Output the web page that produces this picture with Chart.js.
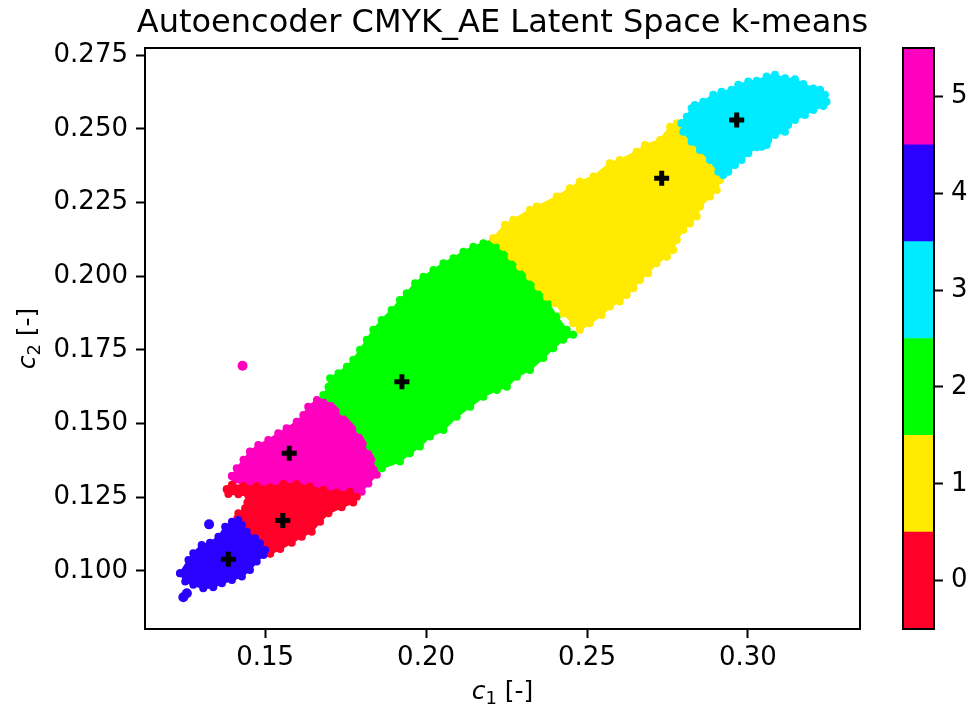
<!DOCTYPE html>
<html>
<head>
<meta charset="utf-8">
<script src="https://cdn.jsdelivr.net/npm/chart.js@4.4.1/dist/chart.umd.min.js"></script>
<style>
  html, body { margin: 0; padding: 0; background: #ffffff; }
  #wrap { position: relative; width: 974px; height: 713px; }
  #main { position: absolute; left: 0; top: 0; }
  #cbar { position: absolute; left: 860px; top: 0; }
</style>
</head>
<body>
<div id="wrap">
  <canvas id="main" width="974" height="713"></canvas>
  <canvas id="cbar" width="114" height="713"></canvas>
</div>
<script>
// k-means cluster labels and their colours (gist_rainbow, 6 levels)
const clusterLabels = [0, 1, 2, 3, 4, 5];
const clusterColors = ['#ff0029', '#ffea00', '#00ff00', '#00ebff', '#2a00ff', '#ff00bf'];

// Outline of each cluster's point cloud in latent coordinates [c1, c2]
const cloud0 = [ // red
  [0.1381,0.1277],[0.1397,0.1292],[0.1433,0.1288],[0.1474,0.1288],[0.1516,0.1284],[0.1557,0.1295],
  [0.1598,0.1295],[0.1640,0.1286],[0.1681,0.1275],[0.1723,0.1266],[0.1764,0.1269],[0.1785,0.1252],
  [0.1774,0.1232],[0.1738,0.1216],[0.1697,0.1196],[0.1671,0.1167],[0.1645,0.1133],[0.1614,0.1116],
  [0.1583,0.1096],[0.1547,0.1074],[0.1516,0.1058],[0.1500,0.1071],[0.1484,0.1094],[0.1469,0.1111],
  [0.1443,0.1133],[0.1428,0.1156],[0.1417,0.1173],[0.1414,0.1179],[0.1417,0.1196],[0.1438,0.1213],
  [0.1445,0.1232],[0.1464,0.1247],[0.1448,0.1255],[0.1417,0.1260],[0.1386,0.1261]
];
const cloud1 = [ // yellow
  [0.2209,0.2129],[0.2245,0.2174],[0.2271,0.2191],[0.2323,0.2225],[0.2344,0.2236],[0.2406,0.2270],
  [0.2447,0.2298],[0.2478,0.2321],[0.2520,0.2338],[0.2571,0.2383],[0.2602,0.2394],[0.2654,0.2422],
  [0.2680,0.2445],[0.2727,0.2462],[0.2758,0.2507],[0.2779,0.2519],[0.2794,0.2507],[0.2810,0.2473],
  [0.2830,0.2445],[0.2861,0.2417],[0.2892,0.2383],[0.2923,0.2354],[0.2913,0.2326],[0.2903,0.2292],
  [0.2882,0.2270],[0.2851,0.2236],[0.2841,0.2202],[0.2820,0.2179],[0.2799,0.2157],[0.2779,0.2123],
  [0.2768,0.2089],[0.2748,0.2066],[0.2716,0.2044],[0.2690,0.2010],[0.2665,0.1987],[0.2644,0.1959],
  [0.2623,0.1936],[0.2602,0.1914],[0.2571,0.1897],[0.2546,0.1868],[0.2509,0.1840],[0.2478,0.1818],
  [0.2457,0.1840],[0.2426,0.1874],[0.2401,0.1908],[0.2375,0.1930],[0.2349,0.1964],[0.2323,0.1998],
  [0.2292,0.2032],[0.2266,0.2066],[0.2240,0.2100],[0.2214,0.2123]
];
const cloud2 = [ // green
  [0.1862,0.1348],[0.1919,0.1371],[0.1950,0.1399],[0.1981,0.1422],[0.2012,0.1456],[0.2054,0.1478],
  [0.2095,0.1523],[0.2137,0.1557],[0.2178,0.1591],[0.2220,0.1614],[0.2251,0.1625],[0.2282,0.1659],
  [0.2323,0.1682],[0.2364,0.1722],[0.2395,0.1755],[0.2426,0.1784],[0.2457,0.1801],[0.2437,0.1818],
  [0.2406,0.1863],[0.2380,0.1908],[0.2354,0.1953],[0.2323,0.1998],[0.2292,0.2032],[0.2261,0.2066],
  [0.2230,0.2100],[0.2209,0.2123],[0.2178,0.2112],[0.2147,0.2100],[0.2116,0.2083],[0.2085,0.2061],
  [0.2054,0.2044],[0.2023,0.2021],[0.1992,0.1998],[0.1966,0.1976],[0.1940,0.1942],[0.1919,0.1919],
  [0.1893,0.1885],[0.1862,0.1851],[0.1836,0.1818],[0.1816,0.1784],[0.1795,0.1750],[0.1774,0.1716],
  [0.1754,0.1693],[0.1728,0.1671],[0.1702,0.1654],[0.1697,0.1625],[0.1681,0.1597],[0.1702,0.1586],
  [0.1743,0.1540],[0.1795,0.1478],[0.1826,0.1422],[0.1852,0.1365]
];
const cloud3 = [ // cyan
  [0.2794,0.2519],[0.2810,0.2541],[0.2825,0.2570],[0.2835,0.2581],[0.2861,0.2592],[0.2892,0.2615],
  [0.2918,0.2626],[0.2949,0.2632],[0.2970,0.2649],[0.3001,0.2660],[0.3027,0.2663],[0.3058,0.2677],
  [0.3084,0.2683],[0.3115,0.2671],[0.3146,0.2668],[0.3172,0.2652],[0.3203,0.2637],[0.3224,0.2632],
  [0.3239,0.2615],[0.3244,0.2592],[0.3234,0.2577],[0.3203,0.2564],[0.3177,0.2547],[0.3146,0.2530],
  [0.3125,0.2513],[0.3115,0.2490],[0.3084,0.2479],[0.3063,0.2462],[0.3058,0.2445],[0.3043,0.2439],
  [0.3027,0.2437],[0.3001,0.2417],[0.2980,0.2394],[0.2960,0.2377],[0.2939,0.2354],[0.2923,0.2343],
  [0.2908,0.2354],[0.2882,0.2394],[0.2851,0.2428],[0.2825,0.2456],[0.2799,0.2490]
];
const cloud4 = [ // blue
  [0.1236,0.0992],[0.1262,0.1037],[0.1277,0.1060],[0.1303,0.1088],[0.1329,0.1096],[0.1355,0.1116],
  [0.1376,0.1150],[0.1397,0.1167],[0.1417,0.1173],[0.1428,0.1156],[0.1443,0.1133],[0.1469,0.1111],
  [0.1484,0.1094],[0.1500,0.1071],[0.1495,0.1054],[0.1474,0.1032],[0.1453,0.1003],[0.1428,0.0981],
  [0.1397,0.0969],[0.1366,0.0958],[0.1339,0.0945],[0.1308,0.0941],[0.1277,0.0953],[0.1252,0.0964]
];
const cloud5 = [ // magenta
  [0.1397,0.1322],[0.1412,0.1348],[0.1433,0.1377],[0.1453,0.1405],[0.1479,0.1427],[0.1510,0.1444],
  [0.1541,0.1467],[0.1567,0.1484],[0.1598,0.1506],[0.1619,0.1529],[0.1634,0.1557],[0.1661,0.1580],
  [0.1686,0.1591],[0.1707,0.1580],[0.1733,0.1552],[0.1754,0.1523],[0.1774,0.1495],[0.1795,0.1467],
  [0.1816,0.1433],[0.1836,0.1399],[0.1857,0.1360],[0.1847,0.1326],[0.1821,0.1297],[0.1800,0.1269],
  [0.1780,0.1261],[0.1764,0.1269],[0.1723,0.1266],[0.1681,0.1275],[0.1640,0.1286],[0.1598,0.1295],
  [0.1557,0.1295],[0.1516,0.1284],[0.1474,0.1288],[0.1433,0.1288],[0.1407,0.1309]
];
const clouds = [cloud0, cloud1, cloud2, cloud3, cloud4, cloud5];

// Isolated samples lying away from the main clouds: [c1, c2, cluster]
const strayPoints = [
  [0.1430, 0.1696, 5],
  [0.1326, 0.1158, 4],
  [0.1246, 0.0911, 4],
  [0.1257, 0.0924, 4]
];

// Cluster centres, indexed by cluster label
const centroidC1 = [0.1555, 0.2732, 0.1925, 0.2965, 0.1386, 0.1575];
const centroidC2 = [0.1171, 0.2332, 0.1642, 0.2530, 0.1040, 0.1399];

// Axis ranges and ticks
const c1Range = [0.1127, 0.3348];
const c2Range = [0.0803, 0.2774];
const c1Ticks = [0.15, 0.20, 0.25, 0.30];
const c2Ticks = [0.100, 0.125, 0.150, 0.175, 0.200, 0.225, 0.250, 0.275];

const FONT = '"DejaVu Sans", sans-serif';
const TICK_PX = 26;
const LABEL_PX = 25;
const TITLE_PX = 32;

// Cloud drawing order: later clusters sit on top of earlier ones
const drawOrder = { 5: 7, 0: 6, 4: 5, 2: 4, 1: 3, 3: 2 };

const datasets = [];
clusterLabels.forEach(k => {
  const pts = clouds[k].map(p => ({ x: p[0], y: p[1] }));
  pts.push({ x: clouds[k][0][0], y: clouds[k][0][1] });
  datasets.push({
    type: 'line',
    label: 'cluster ' + k,
    data: pts,
    order: drawOrder[k],
    showLine: true,
    fill: 'shape',
    tension: 0,
    borderColor: clusterColors[k],
    backgroundColor: clusterColors[k],
    borderWidth: 2,
    borderJoinStyle: 'round',
    pointRadius: 4,
    pointBackgroundColor: clusterColors[k],
    pointBorderWidth: 0,
    pointHoverRadius: 4
  });
});
datasets.push({
  type: 'scatter',
  label: 'stray',
  data: strayPoints.map(p => ({ x: p[0], y: p[1] })),
  order: 1,
  pointRadius: 5,
  pointBorderWidth: 0,
  pointBackgroundColor: strayPoints.map(p => clusterColors[p[2]])
});
datasets.push({
  type: 'scatter',
  label: 'centroids',
  data: centroidC1.map((x, i) => ({ x: x, y: centroidC2[i] })),
  order: 0,
  pointStyle: 'cross',
  pointRadius: 7.5,
  pointBorderWidth: 5,
  pointBorderColor: '#000000',
  pointBackgroundColor: '#000000'
});

// Frame, title and axis labels (math-style italic symbol with subscript)
const decorations = {
  id: 'decorations',
  afterDraw(chart) {
    const { ctx, chartArea: a } = chart;
    ctx.save();
    ctx.strokeStyle = '#000';
    ctx.lineWidth = 2;
    ctx.strokeRect(a.left, a.top, a.right - a.left, a.bottom - a.top);

    ctx.fillStyle = '#000';
    ctx.textAlign = 'center';
    ctx.textBaseline = 'alphabetic';
    ctx.font = TITLE_PX + 'px ' + FONT;
    ctx.fillText('Autoencoder CMYK_AE Latent Space k-means', (a.left + a.right) / 2, 32);

    const drawSymbolLabel = (sub, cx, baseY) => {
      const f1 = 'italic ' + LABEL_PX + 'px ' + FONT;
      const f2 = Math.round(LABEL_PX * 0.7) + 'px ' + FONT;
      const f3 = LABEL_PX + 'px ' + FONT;
      ctx.font = f1; const w1 = ctx.measureText('c').width;
      ctx.font = f2; const w2 = ctx.measureText(sub).width;
      ctx.font = f3; const w3 = ctx.measureText(' [-]').width;
      let x = cx - (w1 + w2 + w3) / 2;
      ctx.textAlign = 'left';
      ctx.font = f1; ctx.fillText('c', x, baseY); x += w1;
      ctx.font = f2; ctx.fillText(sub, x, baseY + LABEL_PX * 0.2); x += w2;
      ctx.font = f3; ctx.fillText(' [-]', x, baseY);
    };
    drawSymbolLabel('1', (a.left + a.right) / 2, 699);
    ctx.save();
    ctx.translate(35, (a.top + a.bottom) / 2);
    ctx.rotate(-Math.PI / 2);
    drawSymbolLabel('2', 0, 0);
    ctx.restore();
    ctx.restore();
  }
};

new Chart(document.getElementById('main'), {
  type: 'scatter',
  data: { datasets: datasets },
  options: {
    responsive: false,
    animation: false,
    events: [],
    layout: { padding: { top: 48, right: 114, left: 0, bottom: 0 } },
    plugins: { legend: { display: false }, tooltip: { enabled: false }, title: { display: false } },
    scales: {
      x: {
        type: 'linear',
        min: c1Range[0], max: c1Range[1],
        afterFit(s) { s.height = 84; },
        afterBuildTicks(s) { s.ticks = c1Ticks.map(v => ({ value: v })); },
        grid: { drawOnChartArea: false, drawTicks: true, tickLength: 9, tickWidth: 2, tickColor: '#000' },
        border: { display: true, color: '#000', width: 2 },
        ticks: { color: '#000', padding: 5, font: { family: FONT, size: TICK_PX }, maxRotation: 0,
                 callback: v => Number(v).toFixed(2) }
      },
      y: {
        type: 'linear',
        min: c2Range[0], max: c2Range[1],
        afterFit(s) { s.width = 145; },
        afterBuildTicks(s) { s.ticks = c2Ticks.map(v => ({ value: v })); },
        grid: { drawOnChartArea: false, drawTicks: true, tickLength: 9, tickWidth: 2, tickColor: '#000' },
        border: { display: true, color: '#000', width: 2 },
        ticks: { color: '#000', padding: 8, font: { family: FONT, size: TICK_PX },
                 callback: v => Number(v).toFixed(3) }
      }
    }
  },
  plugins: [decorations]
});

// Colour bar for the cluster labels
const cbarFrame = {
  id: 'cbarFrame',
  afterDraw(chart) {
    const { ctx, chartArea: a } = chart;
    ctx.save();
    ctx.strokeStyle = '#000';
    ctx.lineWidth = 2;
    ctx.strokeRect(a.left, a.top, a.right - a.left, a.bottom - a.top);
    ctx.restore();
  }
};

new Chart(document.getElementById('cbar'), {
  type: 'bar',
  data: {
    labels: [''],
    datasets: clusterLabels.map(k => ({
      data: [[k - 0.5, k + 0.5]],
      backgroundColor: clusterColors[k],
      borderWidth: 0,
      grouped: false,
      barPercentage: 1,
      categoryPercentage: 1
    }))
  },
  options: {
    responsive: false,
    animation: false,
    events: [],
    layout: { padding: { top: 48, left: 43, right: 0, bottom: 84 } },
    plugins: { legend: { display: false }, tooltip: { enabled: false } },
    scales: {
      x: { display: false },
      y: {
        position: 'right',
        min: -0.5, max: 5.5,
        afterFit(s) { s.width = 40; },
        afterBuildTicks(s) { s.ticks = clusterLabels.map(v => ({ value: v })); },
        grid: { drawOnChartArea: false, drawTicks: true, tickLength: 9, tickWidth: 2, tickColor: '#000' },
        border: { display: false },
        ticks: { color: '#000', padding: 8, font: { family: FONT, size: TICK_PX }, callback: v => String(v) }
      }
    }
  },
  plugins: [cbarFrame]
});
</script>
</body>
</html>
